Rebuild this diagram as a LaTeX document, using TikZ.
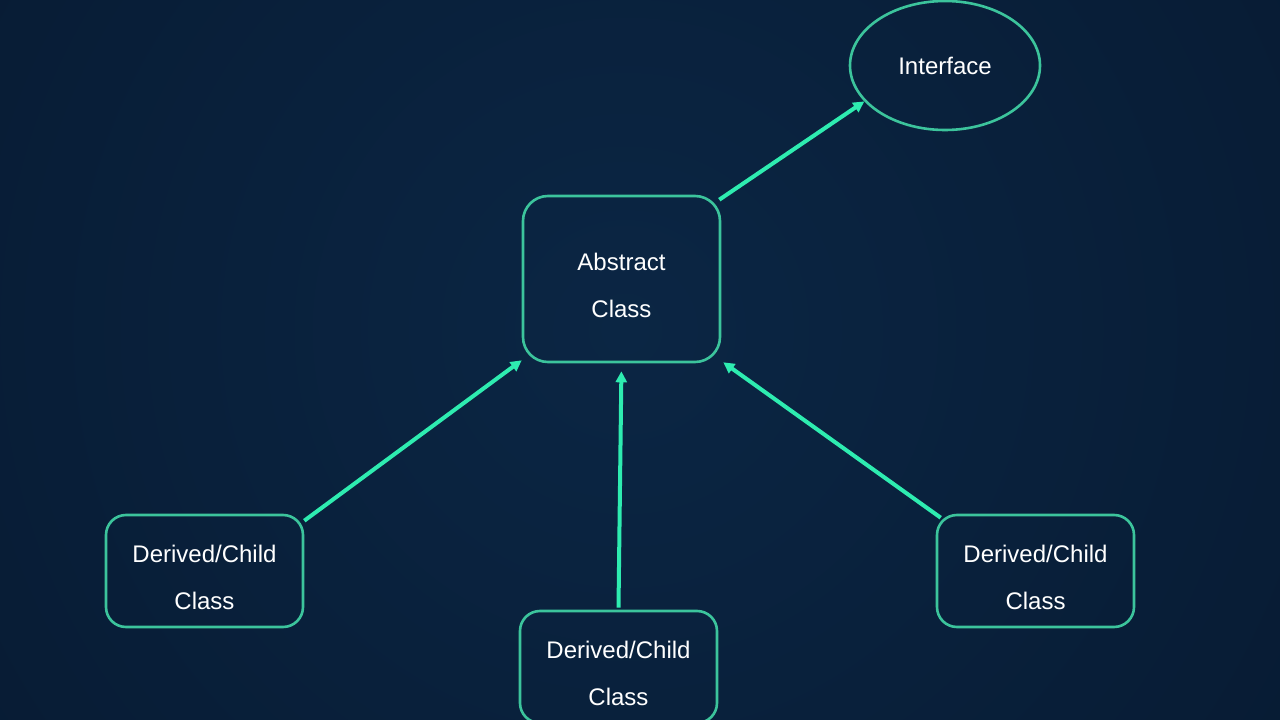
\documentclass[tikz,border=0pt]{standalone}
\usepackage{fontspec}
\setmainfont{Liberation Sans}
\usetikzlibrary{arrows.meta,shapes.geometric}
\definecolor{bginner}{HTML}{0B2644}
\definecolor{bgouter}{HTML}{05152A}
\definecolor{boxline}{HTML}{3CC49C}
\definecolor{arrline}{HTML}{2EECB0}
\newcommand{\topgap}{\rule{0pt}{30bp}}
\tikzset{
 box/.style={draw=boxline,line width=2.6bp,rounded corners=20bp,
  minimum width=197bp,minimum height=112bp,align=center,text=white,
  font=\fontsize{24bp}{47bp}\selectfont},
 arr/.style={arrline,line width=4bp,-{Triangle[length=11bp,width=11bp]}},
}
\begin{document}
\begin{tikzpicture}[x=1bp,y=-1bp]
 % background
 \useasboundingbox (0,0) rectangle (1280,720);
 \fill[bgouter] (0,0) rectangle (1280,720);
 \begin{scope}
 \clip (0,0) rectangle (1280,720);
 \shade[inner color=bginner,outer color=bgouter] (625,330) circle (1250);
 \end{scope}
 % nodes
 \node[box,minimum height=166bp,rounded corners=25bp] (abs) at (621.5,279) {\topgap Abstract\\Class};
 \node[draw=boxline,line width=2.6bp,ellipse,minimum width=190bp,minimum height=129bp,
  text=white,font=\fontsize{24bp}{28bp}\selectfont] (iface) at (945,65.5) {Interface};
 \node[box] (lchild) at (204.5,571) {\topgap Derived/Child\\Class};
 \node[box] (bchild) at (618.5,667) {\topgap Derived/Child\\Class};
 \node[box] (rchild) at (1035.5,571) {\topgap Derived/Child\\Class};
 % arrows
 \draw[arr] ([xshift=-2bp,yshift=-5bp]abs.north east) -- (iface.204);
 \draw[arr] ([yshift=-7bp]lchild.north east) -- ([yshift=3bp]abs.south west);
 \draw[arr,shorten >=8bp] ([yshift=2bp]bchild.north) -- (abs.south);
 \draw[arr] ([xshift=5bp,yshift=-4bp]rchild.north west) -- ([xshift=2bp,yshift=1bp]abs.south east);
\end{tikzpicture}
\end{document}
